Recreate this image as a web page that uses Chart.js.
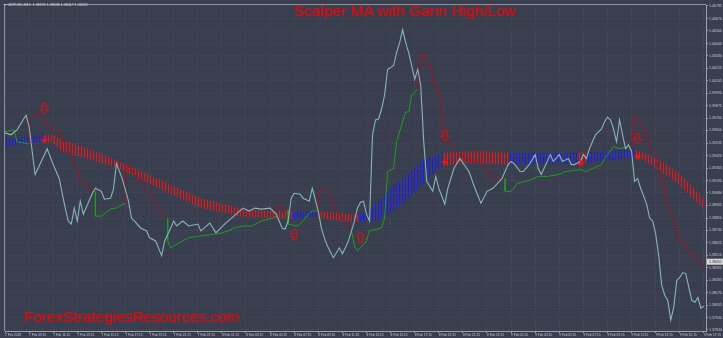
<!DOCTYPE html>
<html>
<head>
<meta charset="utf-8">
<script src="https://cdn.jsdelivr.net/npm/chart.js@4.4.1/dist/chart.umd.min.js"></script>
<style>
  html, body { margin: 0; padding: 0; background: #3a3f4f; }
  #wrap { position: relative; width: 723px; height: 338px; overflow: hidden; }
  #wrap canvas { display: block; }
  .label { position: absolute; white-space: nowrap; font-family: "Liberation Sans", Arial, sans-serif; color: #ff0000; line-height: 1; }
  #title { left: 294px; top: 3px; font-size: 15.5px; }
  #mark { left: 24px; top: 309px; font-size: 15.4px; }
</style>
</head>
<body>
<div id="wrap">
  <canvas id="chart" width="723" height="338"></canvas>
  <div id="title" class="label">Scalper MA with Gann High/Low</div>
  <div id="mark" class="label">ForexStrategiesResources.com</div>
</div>
<script>
// ── data (bar index = one M15 candle) ──
const timeLabels = ["7 Feb 2018","7 Feb 09:15","7 Feb 11:15","7 Feb 13:15","7 Feb 15:15","7 Feb 17:15","7 Feb 19:15","7 Feb 21:15","7 Feb 23:15","8 Feb 01:15","8 Feb 03:15","8 Feb 05:15","8 Feb 07:15","8 Feb 09:15","8 Feb 11:15","8 Feb 13:15","8 Feb 15:15","8 Feb 17:15","8 Feb 19:15","8 Feb 21:15","8 Feb 23:15","9 Feb 01:15","9 Feb 03:15","9 Feb 05:15","9 Feb 07:15","9 Feb 09:15","9 Feb 11:15","9 Feb 13:15","9 Feb 15:15","9 Feb 17:15"];
const priceTicks = [1.40785,1.40670,1.40560,1.40440,1.40330,1.40215,1.40105,1.39990,1.39875,1.39760,1.39650,1.39535,1.39420,1.39305,1.39190,1.39080,1.38965,1.38850,1.38740,1.38625,1.38510,1.38395,1.38285,1.38170,1.38055,1.37940,1.37830];
const headerText = "\u25BC GBPUSD,M15  1.38525 1.38536 1.38417 1.38452";
const lastPrice = 1.38452;

const closeBars = [0,2,4,7,8,10,14,16,18,20,21,22,23,24,25,26,29,30,32,33,35,36,37,39,41,42,43,45,47,48,50,52,53,55,56,57,59,61,64,65,68,70,72,74,76,79,81,83,85,88,90,91,92,93,94,95,96,98,99,101,102,104,105,106,107,109,111,112,113,114,116,117,118,119,120,121,122,123,124,125,126,127,129,130,131,132,133,134,135,136,137,138,139,140,142,143,144,146,147,149,151,154,156,158,160,162,165,167,168,169,171,172,174,176,177,178,180,181,182,184,185,187,188,189,191,192,193,194,196,198,199,200,201,202,203,204,205,206,207,208,209,210,211,213,214,215,216,217,218,219,220,221,222,223,224,225,226,227,228,229,230,231,232];
const closePrices = [1.39628,1.39610,1.39655,1.39790,1.39682,1.39248,1.39483,1.39338,1.39212,1.38941,1.38823,1.38796,1.38941,1.38823,1.39004,1.38886,1.39076,1.39122,1.39094,1.39022,1.39031,1.39112,1.39347,1.39203,1.39005,1.38850,1.38823,1.38760,1.38733,1.38670,1.38642,1.38507,1.38642,1.38760,1.38823,1.38778,1.38823,1.38778,1.38796,1.38733,1.38805,1.38715,1.38769,1.38823,1.38868,1.38941,1.38914,1.38941,1.38932,1.38941,1.38886,1.38823,1.38760,1.38751,1.38823,1.39031,1.39076,1.39067,1.39031,1.39004,1.39122,1.38914,1.38760,1.38670,1.38597,1.38489,1.38579,1.38525,1.38579,1.38642,1.38823,1.38941,1.38995,1.39004,1.38886,1.38823,1.39610,1.39745,1.39754,1.39845,1.39971,1.40206,1.40242,1.40360,1.40450,1.40568,1.40450,1.40360,1.40242,1.40116,1.40206,1.40062,1.39546,1.39185,1.39094,1.39230,1.39122,1.38977,1.39122,1.39302,1.39393,1.39275,1.39122,1.38986,1.39094,1.39122,1.39212,1.39338,1.39366,1.39347,1.39275,1.39275,1.39338,1.39429,1.39302,1.39248,1.39366,1.39429,1.39366,1.39429,1.39366,1.39393,1.39338,1.39338,1.39366,1.39429,1.39393,1.39483,1.39610,1.39664,1.39727,1.39772,1.39745,1.39664,1.39546,1.39745,1.39610,1.39483,1.39519,1.39456,1.39185,1.39212,1.39122,1.38977,1.38850,1.38823,1.38706,1.38507,1.38236,1.38146,1.38100,1.37919,1.38037,1.38281,1.38308,1.38353,1.38344,1.38218,1.38100,1.38082,1.38127,1.38028,1.38046];

// Gann High/Low activator: 1 = green (low line), -1 = red (high line)
const gannBars = [0,3,4,8,8,10,12,13,15,17,19,20,22,23,24,25,27,28,30,30,32,35,37,38,40,40,41,43,46,48,50,52,54,54,55,59,61,65,70,72,74,76,79,82,85,89,90,90,92,94,94,97,99,101,102,104,104,106,107,108,109,111,114,115,116,117,118,120,121,125,126,127,129,130,132,133,134,135,136,137,138,139,140,141,142,143,144,145,146,148,149,151,155,158,160,162,164,166,166,168,169,170,174,177,180,184,186,189,191,193,195,198,199,200,202,204,207,208,209,211,213,214,216,217,219,220,222,223,224,226,227,229,230,232];
const gannPrices = [1.39637,1.39655,1.39546,1.39528,1.39745,1.39800,1.39782,1.39727,1.39682,1.39637,1.39610,1.39483,1.39429,1.39338,1.39293,1.39185,1.39158,1.39122,1.39094,1.38868,1.38868,1.38932,1.38941,1.38959,1.38986,1.39320,1.39338,1.39248,1.39158,1.39094,1.38977,1.38914,1.38850,1.38642,1.38579,1.38642,1.38670,1.38688,1.38706,1.38715,1.38733,1.38760,1.38778,1.38778,1.38823,1.38850,1.38868,1.38959,1.38941,1.38923,1.38796,1.38778,1.38823,1.38896,1.38914,1.38914,1.39094,1.39112,1.39112,1.39076,1.38941,1.38886,1.38760,1.38733,1.38597,1.38552,1.38579,1.38642,1.38733,1.38760,1.38850,1.39275,1.39302,1.39546,1.39727,1.39818,1.39818,1.39971,1.39998,1.40026,1.40342,1.40360,1.40252,1.40242,1.40161,1.40017,1.40017,1.39791,1.39546,1.39528,1.39483,1.39429,1.39366,1.39366,1.39293,1.39212,1.39203,1.39212,1.39094,1.39094,1.39122,1.39167,1.39194,1.39230,1.39230,1.39248,1.39275,1.39284,1.39293,1.39275,1.39302,1.39338,1.39393,1.39429,1.39501,1.39483,1.39501,1.39483,1.39791,1.39709,1.39637,1.39483,1.39429,1.39275,1.39122,1.38941,1.38850,1.38715,1.38642,1.38615,1.38534,1.38516,1.38462,1.38407];
const gannDir = [1,1,1,1,-1,-1,-1,-1,-1,-1,-1,-1,-1,-1,-1,-1,-1,-1,-1,1,1,1,1,1,1,-1,-1,-1,-1,-1,-1,-1,-1,1,1,1,1,1,1,1,1,1,1,1,1,1,1,-1,-1,-1,1,1,1,1,1,1,-1,-1,-1,-1,-1,-1,-1,-1,1,1,1,1,1,1,1,1,1,1,1,1,1,1,1,1,-1,-1,-1,-1,-1,-1,-1,-1,-1,-1,-1,-1,-1,-1,-1,-1,-1,-1,1,1,1,1,1,1,1,1,1,1,1,1,1,1,1,1,1,1,1,1,-1,-1,-1,-1,-1,-1,-1,-1,-1,-1,-1,-1,-1,-1,-1,-1];

// Scalper MA band: upper / lower edge of the sticks, 1 = blue, -1 = red
const bandBars  = [0,7,13,16,19,26,38,49,65,79,89,96,102,104,111,117,118,120,124,128,133,138,142,145,152,158,167,181,190,193,198,208,209,211,218,224,232];
const bandUpper = [1.39574,1.39592,1.39610,1.39610,1.39564,1.39501,1.39366,1.39230,1.39031,1.38932,1.38914,1.38905,1.38914,1.38914,1.38896,1.38878,1.38887,1.38905,1.39004,1.39122,1.39230,1.39366,1.39411,1.39447,1.39456,1.39465,1.39447,1.39447,1.39447,1.39450,1.39456,1.39483,1.39480,1.39456,1.39366,1.39257,1.39022];
const bandLower = [1.39501,1.39528,1.39546,1.39537,1.39456,1.39402,1.39302,1.39149,1.38941,1.38860,1.38850,1.38841,1.38860,1.38855,1.38823,1.38814,1.38814,1.38823,1.38832,1.38896,1.39004,1.39140,1.39257,1.39320,1.39347,1.39347,1.39338,1.39347,1.39347,1.39350,1.39366,1.39402,1.39402,1.39393,1.39275,1.39149,1.38932];
const bandDir   = [1,1,-1,-1,-1,-1,-1,-1,-1,-1,-1,1,1,-1,-1,-1,1,1,1,1,1,1,1,-1,-1,-1,1,1,-1,1,1,1,-1,-1,-1,-1,-1];

// signal arrows
const sellArrowBars = [13,146,210],  sellArrowPrices = [1.39845,1.39601,1.39573];
const buyArrowBars  = [96,118],      buyArrowPrices  = [1.38706,1.38679];
const sellDotBars   = [13,146,191,210], sellDotPrices = [1.39564,1.39366,1.39348,1.39411];
const buyDotBars    = [96,118],      buyDotPrices    = [1.38868,1.38850];

// ── helpers ──
const pts = (xs, ys) => xs.map((x, i) => ({ x: x, y: ys[i] }));

function stripes(color) {
    const c = document.createElement('canvas');
    c.width = 3; c.height = 1;
    const g = c.getContext('2d');
    g.fillStyle = color;
    g.fillRect(0, 0, 1, 1);
    return g.createPattern(c, 'repeat');
}
const redSticks = stripes('#ff1010');
const blueSticks = stripes('#1a1aff');

function hollowArrow(down) {
    const c = document.createElement('canvas');
    c.width = 9; c.height = 12;
    const g = c.getContext('2d');
    if (!down) { g.translate(0, 12); g.scale(1, -1); }
    g.strokeStyle = '#ff0000';
    g.lineWidth = 1;
    g.beginPath();
    g.moveTo(2.5, 0.5); g.lineTo(6.5, 0.5); g.lineTo(6.5, 6.5); g.lineTo(8.5, 6.5);
    g.lineTo(4.5, 11); g.lineTo(0.5, 6.5); g.lineTo(2.5, 6.5); g.closePath();
    g.stroke();
    return c;
}

function smallArrow(down, color) {
    const c = document.createElement('canvas');
    c.width = 7; c.height = 7;
    const g = c.getContext('2d');
    if (!down) { g.translate(0, 7); g.scale(1, -1); }
    g.fillStyle = color;
    g.fillRect(3, 0, 1, 4);
    g.beginPath();
    g.moveTo(0, 3); g.lineTo(7, 3); g.lineTo(3.5, 7); g.closePath();
    g.fill();
    return c;
}

const overlay = {
    id: 'overlay',
    afterDraw(chart) {
        const { ctx, chartArea: a, scales: { y } } = chart;
        ctx.save();
        // frame
        ctx.strokeStyle = '#8c919c';
        ctx.lineWidth = 1;
        ctx.beginPath();
        ctx.moveTo(a.left - 0.5, a.bottom);
        ctx.lineTo(a.left - 0.5, a.top - 0.5);
        ctx.lineTo(a.right, a.top - 0.5);
        ctx.stroke();
        // header
        ctx.fillStyle = '#d0d3da';
        ctx.font = '3.6px "Liberation Sans"';
        ctx.textBaseline = 'top';
        ctx.fillText(headerText, 3, 3);
        // last price tag
        const py = y.getPixelForValue(lastPrice);
        ctx.fillStyle = '#d8d8d8';
        ctx.fillRect(a.right + 1, py - 3, 17, 6);
        ctx.fillStyle = '#303030';
        ctx.textBaseline = 'middle';
        ctx.font = '3.6px "Liberation Sans"';
        ctx.fillText(lastPrice.toFixed(5), a.right + 3, py);
        ctx.restore();
    }
};

const axisText = '#c4c8d0';
const gridCol = 'rgba(200,205,215,0.10)';

new Chart(document.getElementById('chart'), {
    type: 'line',
    data: {
        datasets: [
            {
                label: 'Close', data: pts(closeBars, closePrices),
                borderColor: '#84b6ba', borderWidth: 1.1, pointRadius: 0, tension: 0, order: 1
            },
            {
                label: 'Gann', data: pts(gannBars, gannPrices),
                borderColor: '#b01020', borderWidth: 1, pointRadius: 0, tension: 0, order: 2,
                segment: { borderColor: c => gannDir[c.p1DataIndex] > 0 ? '#1f9e1f' : '#a8101e' }
            },
            {
                label: 'Sell signal', type: 'scatter', data: pts(sellArrowBars, sellArrowPrices),
                pointStyle: hollowArrow(true), order: 0
            },
            {
                label: 'Buy signal', type: 'scatter', data: pts(buyArrowBars, buyArrowPrices),
                pointStyle: hollowArrow(false), order: 0
            },
            {
                label: 'Sell mark', type: 'scatter', data: pts(sellDotBars, sellDotPrices),
                pointStyle: smallArrow(true, '#ff1010'), order: 0
            },
            {
                label: 'Buy mark', type: 'scatter', data: pts(buyDotBars, buyDotPrices),
                pointStyle: smallArrow(false, '#2222ff'), order: 0
            },
            {
                label: 'MA upper', data: pts(bandBars, bandUpper),
                borderWidth: 0, borderColor: 'rgba(0,0,0,0)', pointRadius: 0, tension: 0,
                fill: '+1', backgroundColor: redSticks, order: 5,
                segment: { backgroundColor: c => bandDir[c.p0DataIndex] > 0 ? blueSticks : redSticks }
            },
            {
                label: 'MA lower', data: pts(bandBars, bandLower),
                borderWidth: 0, borderColor: 'rgba(0,0,0,0)', pointRadius: 0, tension: 0, fill: false, order: 6
            }
        ]
    },
    options: {
        responsive: false,
        animation: false,
        events: [],
        layout: { padding: { left: 2, top: 2, right: 0, bottom: 0 } },
        plugins: { legend: { display: false }, tooltip: { enabled: false } },
        scales: {
            x: {
                type: 'linear', position: 'bottom', min: 0, max: 232.7,
                afterBuildTicks: s => { s.ticks = timeLabels.map((t, k) => ({ value: k * 8 })); },
                afterFit: s => { s.height = 7; s.paddingLeft = 0; s.paddingRight = 0; },
                ticks: {
                    autoSkip: false, maxRotation: 0, align: 'start', padding: 0,
                    color: axisText, font: { size: 3.2, family: 'Liberation Sans' },
                    callback: (v, i) => timeLabels[i]
                },
                grid: { color: gridCol, tickColor: '#9ca1ab', tickLength: 2 },
                border: { color: '#9ca1ab', dash: [1, 2] }
            },
            y: {
                type: 'linear', position: 'right', min: 1.37820, max: 1.40794,
                afterBuildTicks: s => { s.ticks = priceTicks.map(v => ({ value: v })); },
                afterFit: s => { s.width = 17; s.paddingTop = 0; s.paddingBottom = 0; },
                ticks: {
                    padding: 1, color: axisText, font: { size: 3.6, family: 'Liberation Sans' },
                    callback: v => v.toFixed(5)
                },
                grid: { color: gridCol, tickColor: '#9ca1ab', tickLength: 2 },
                border: { color: '#9ca1ab', dash: [1, 2] }
            }
        }
    },
    plugins: [overlay]
});
</script>
</body>
</html>
